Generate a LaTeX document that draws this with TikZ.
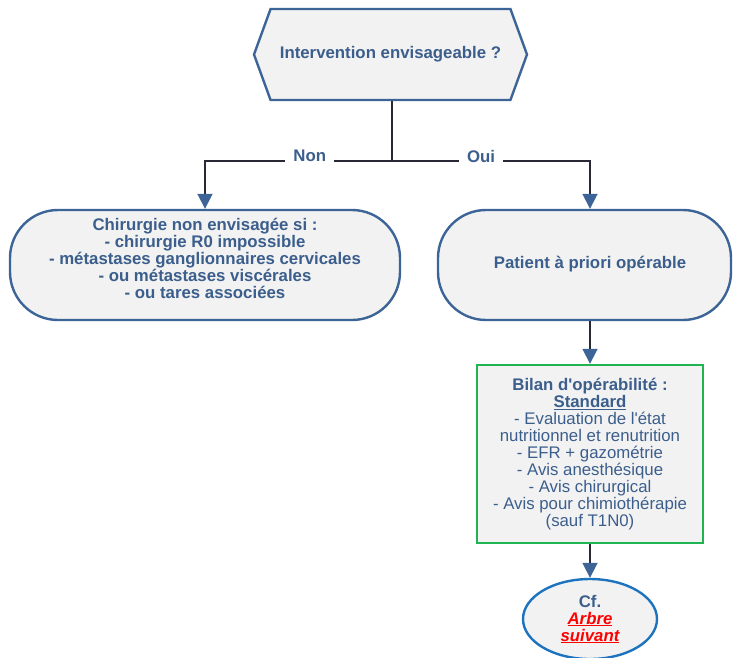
\documentclass[tikz,border=0pt]{standalone}
\usepackage{fontspec}
\setmainfont{Liberation Sans}[Ligatures=TeXOff]
\usetikzlibrary{shapes.symbols,shapes.geometric,arrows.meta}

\definecolor{boxblue}{RGB}{60,100,150}
\definecolor{txtblue}{RGB}{59,94,140}
\definecolor{boxfill}{RGB}{242,242,242}
\definecolor{linedark}{RGB}{40,40,55}
\definecolor{okgreen}{RGB}{30,180,80}
\definecolor{ovalblue}{RGB}{30,115,190}

\tikzset{
	txt/.style={font=\fontsize{16.8}{17}\selectfont, text=txtblue, align=center},
	hexa/.style={txt, font=\fontsize{16.8}{17}\selectfont\bfseries, draw=boxblue, fill=boxfill, line width=2.4pt, shape=signal, signal to=west and east, signal pointer angle=140, minimum width=273pt, minimum height=91pt},
	pill/.style={txt, font=\fontsize{16.8}{17}\selectfont\bfseries, draw=boxblue, fill=boxfill, line width=2.4pt, rectangle, rounded corners=48pt, minimum height=110pt},
	bilan/.style={txt, draw=okgreen, fill=boxfill, line width=2.4pt, rectangle, minimum width=226pt, minimum height=178pt},
	oval/.style={txt, font=\fontsize{16.8}{17}\selectfont\bfseries, draw=ovalblue, fill=boxfill, line width=2.4pt, ellipse, minimum width=134pt, minimum height=80pt, inner sep=0pt},
	lien/.style={draw=linedark, line width=1.8pt},
	fleche/.style={lien, -{Triangle[length=15pt,width=15pt,color=boxblue]}},
	choix/.style={txt, font=\fontsize{16.8}{17}\selectfont\bfseries, fill=white, inner xsep=8pt, yshift=5pt}
}

\begin{document}
\begin{tikzpicture}[x=1pt, y=-1pt]
	\useasboundingbox (0,0) rectangle (733,657);

	\node[hexa] (Q-00) at (390.5, 54.5) {Intervention envisageable ?};

	\coordinate (J-00) at (392, 161);

	\node[pill, minimum width=390pt] (L1-00) at (205, 265) {Chirurgie non envisagée si :\\ - chirurgie R0 impossible\\ - métastases ganglionnaires cervicales\\ - ou métastases viscérales\\ - ou tares associées\\[-3pt]\mbox{}};
	\node[pill, minimum width=293pt] (L1-01) at (584.5, 265) {\hspace{11pt}Patient à priori opérable\\[-12pt]\mbox{}};

	\node[bilan] (L2-00) at (590, 454) {\textbf{Bilan d'opérabilité :}\\ \textbf{\underline{Standard}}\\ - Evaluation de l'état\\ nutritionnel et renutrition\\ - EFR + gazométrie\\ - Avis anesthésique\\ - Avis chirurgical\\ - Avis pour chimiothérapie\\ (sauf T1N0)};

	\node[oval] (L3-00) at (590, 619) {Cf.\\ \textcolor{red}{\itshape\underline{Arbre}}\\ \textcolor{red}{\itshape\underline{suivant}}};

	\draw[lien] (Q-00.south -| J-00) -- (J-00);

	\draw[fleche] (J-00) -| node[choix, pos=0.22] {Non} (L1-00);
	\draw[fleche] (J-00) -| node[choix, pos=0.225] {Oui} ([xshift=5.5pt]L1-01.north);

	\draw[fleche] ([xshift=5.5pt]L1-01.south) -- (L2-00);
	\draw[fleche] (L2-00) -- (L3-00);

\end{tikzpicture}
\end{document}
